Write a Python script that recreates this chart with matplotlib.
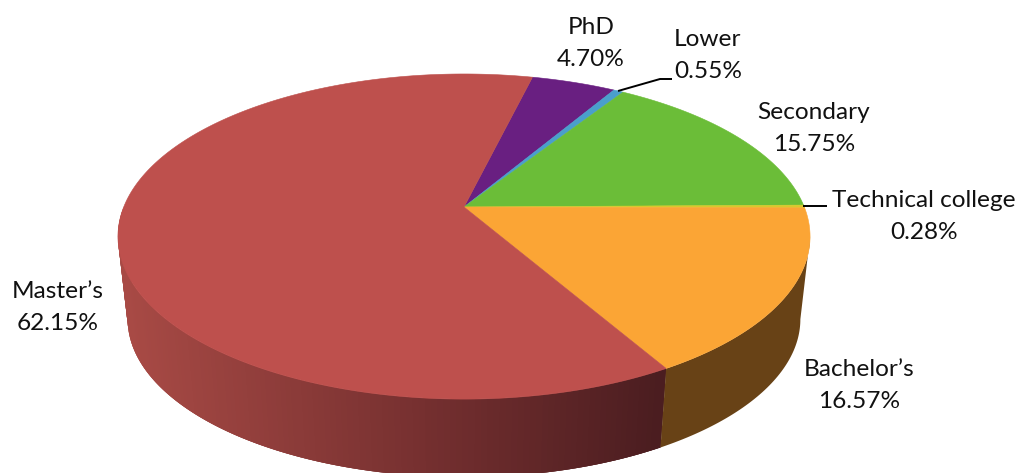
import numpy as np
import matplotlib
matplotlib.use("Agg")
import matplotlib.pyplot as plt
from matplotlib.patches import Polygon

# Education level shares, clockwise from the top of the pie
levels = ["PhD", "Lower", "Secondary", "Technical college", "Bachelor\u2019s", "Master\u2019s"]
shares = [4.70, 0.55, 15.75, 0.28, 16.57, 62.15]
top_colors = ["#691F81", "#4A9FCC", "#6BBD38", "#D9C92B", "#FBA535", "#BE504D"]

W, H = 1017, 473
APEX_X, APEX_Y = 464.0, 207.0
RX, RY, TILT = 340.3, 157.2, 0.1817
START_DEG = 76.3
FLOOR_SCALE, FLOOR_DROP = 0.972, 83.5


def project(theta_deg, floor=False):
    """Perspective view of a point on the rim of the disc."""
    t = np.radians(theta_deg)
    u, v = np.cos(t), np.sin(t)
    w = 1 + TILT * v
    x, y = RX * u / w, -RY * v / w
    if floor:
        return APEX_X + FLOOR_SCALE * x, APEX_Y + FLOOR_SCALE * y + FLOOR_DROP
    return APEX_X + x, APEX_Y + y


def mix(a, b, f):
    return tuple((1 - f) * p + f * q for p, q in zip(a, b))


fig = plt.figure(figsize=(W / 100, H / 100), dpi=100)
ax = fig.add_axes([0, 0, 1, 1])
ax.set_xlim(0, W)
ax.set_ylim(H, 0)
ax.axis("off")

spans = np.array(shares) / sum(shares) * 360.0
ends = START_DEG - np.cumsum(spans)
starts = ends + spans
bounds = {name: (s, e) for name, s, e in zip(levels, starts, ends)}

# Outer wall: brown under the Bachelor's slice, shaded red under the Master's slice
brown = (0x68 / 255, 0x42 / 255, 0x16 / 255)
red_light = (0xA8 / 255, 0x4A / 255, 0x45 / 255)
red_mid = (0x76 / 255, 0x30 / 255, 0x30 / 255)
red_dark = (0x4B / 255, 0x1D / 255, 0x20 / 255)


def wall_strip(a, b, color):
    top_a, top_b = project(a), project(b)
    low_a, low_b = project(a, True), project(b, True)
    ax.add_patch(Polygon([top_a, top_b, low_b, low_a], closed=True,
                         facecolor=color, edgecolor="none", antialiased=True))


b_end = bounds[levels[4]][1]
m_start = bounds[levels[5]][0]

# Red strips run from the far left towards the slice boundary, each one
# overlapping the next so no seams appear between them.
grid = np.linspace(-180.0, m_start, 140)
for i in range(len(grid) - 1):
    a = grid[i]
    b = m_start if i + 3 >= len(grid) else grid[i + 3]
    x = project((grid[i] + grid[i + 1]) / 2)[0]
    f = np.clip((661 - x) / (661 - 125), 0, 1)
    if f > 0.45:
        shade = mix(red_mid, red_light, (f - 0.45) / 0.55)
    else:
        shade = mix(red_dark, red_mid, f / 0.45)
    wall_strip(a, b, shade)

# The brown wall starts where the rim turns away from the viewer on the right
silhouette = -np.degrees(np.arcsin(TILT))
brown_angles = np.linspace(silhouette, b_end, 60)
top_rim = [project(a) for a in brown_angles]
low_rim = [project(a, True) for a in brown_angles]
ax.add_patch(Polygon(top_rim + low_rim[::-1], closed=True, facecolor=brown, edgecolor="none"))

# Top face of the pie
for s, e, color in zip(starts, ends, top_colors):
    angles = np.linspace(s, e, max(int(abs(s - e)) * 2, 6))
    rim = [project(a) for a in angles]
    ax.add_patch(Polygon([(APEX_X, APEX_Y)] + rim, closed=True,
                         facecolor=color, edgecolor=color, linewidth=0.4))

# Leader lines for the two thinnest slices
ax.plot([618, 660, 672], [91, 79, 79], color="black", lw=1.4, solid_capstyle="butt")
ax.plot([803, 827], [206, 206], color="black", lw=1.4, solid_capstyle="butt")

# Slice labels
label_centres = [(591, 43.5), (708, 56), (814, 128), (924, 216), (859, 385), (58, 307)]
for name, share, (cx, cy) in zip(levels, shares, label_centres):
    ax.text(cx, cy - 16, name, ha="center", va="center", fontsize=17.6,
            family="Lato", color="#111111")
    ax.text(cx, cy + 16, f"{share:.2f}%", ha="center", va="center", fontsize=17.6,
            family="Lato", color="#111111")

fig.savefig("out.png", dpi=100, facecolor="white")
